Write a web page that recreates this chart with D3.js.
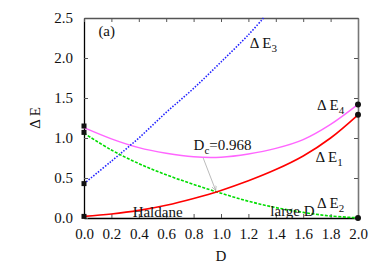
<!DOCTYPE html>
<html>
<head>
<meta charset="utf-8">
<script src="https://cdnjs.cloudflare.com/ajax/libs/d3/7.8.5/d3.min.js"></script>
<style>
  body { margin: 0; background: #fff; }
  svg text { font-family: "Liberation Serif", "DejaVu Serif", "Times New Roman", serif !important; }
</style>
</head>
<body>
<div id="chart"></div>
<script>
// gaps vs D
const dVals = [0, 0.2, 0.4, 0.6, 0.8, 1.0, 1.2, 1.4, 1.6, 1.8, 2.0];
const e1 = [0.02, 0.05, 0.095, 0.16, 0.245, 0.345, 0.465, 0.605, 0.775, 1.00, 1.29];
const e2 = [1.06, 0.85, 0.68, 0.54, 0.42, 0.31, 0.21, 0.13, 0.07, 0.025, 0.003];
const e4 = [1.13, 0.99, 0.88, 0.81, 0.765, 0.76, 0.80, 0.87, 0.98, 1.17, 1.42];
const d3Vals = [0, 0.2, 0.4, 0.6, 0.8, 1.0, 1.2, 1.31];
const e3 = [0.43, 0.71, 1.00, 1.32, 1.62, 1.95, 2.29, 2.5];

const xTicks = [0, 0.2, 0.4, 0.6, 0.8, 1.0, 1.2, 1.4, 1.6, 1.8, 2.0];
const yTicks = [0, 0.5, 1.0, 1.5, 2.0, 2.5];

const dc = 0.968;
// end markers
const leftPts = [1.15, 1.07, 0.43, 0.02];
const rightPts = [1.42, 1.29, 0.0];

const W = 382, H = 267;
const m = {left: 84, right: 24, top: 18, bottom: 49};
const iw = W - m.left - m.right, ih = H - m.top - m.bottom;
const serif = "'Liberation Serif', 'DejaVu Serif', serif";

const svg = d3.select("#chart").append("svg")
    .attr("width", W).attr("height", H)
    .attr("font-family", serif);

svg.append("rect").attr("width", W).attr("height", H).attr("fill", "#fff");

const g = svg.append("g").attr("transform", `translate(${m.left},${m.top})`);

const x = d3.scaleLinear().domain([0, 2]).range([0, iw]);
const y = d3.scaleLinear().domain([0, 2.5]).range([ih, 0]);

// axes, ticks pointing inward
const fmt = d3.format(".1f");
g.append("g")
    .attr("transform", `translate(0,${ih})`)
    .call(d3.axisBottom(x).tickValues(xTicks).tickFormat(fmt).tickSizeInner(-4).tickSizeOuter(0).tickPadding(10))
    .call(a => a.select(".domain").attr("stroke", "#000").attr("stroke-width", 1.3));
g.append("g")
    .call(d3.axisLeft(y).tickValues(yTicks).tickFormat(fmt).tickSizeInner(-4).tickSizeOuter(0).tickPadding(11))
    .call(a => a.select(".domain").attr("stroke", "#000").attr("stroke-width", 1.3));
g.append("g")
    .call(d3.axisTop(x).tickValues(xTicks).tickFormat("").tickSizeInner(-4).tickSizeOuter(0))
    .call(a => a.select(".domain").attr("stroke", "#555").attr("stroke-width", 1.3));
g.append("g")
    .attr("transform", `translate(${iw},0)`)
    .call(d3.axisRight(y).tickValues(yTicks).tickFormat("").tickSizeInner(-4).tickSizeOuter(0))
    .call(a => a.select(".domain").attr("stroke", "#777").attr("stroke-width", 1.6));

g.selectAll("g").attr("font-family", serif);
g.selectAll(".tick line").attr("stroke", "#555");
g.selectAll(".tick text").attr("font-size", 15).attr("fill", "#111");

const line = (xs, ys) => d3.line()
    .x((d, i) => x(xs[i]))
    .y(d => y(d))
    .curve(d3.curveCatmullRom)(ys);

g.append("path").attr("d", line(dVals, e4))
    .attr("fill", "none").attr("stroke", "#ff66ff").attr("stroke-width", 1.4);
g.append("path").attr("d", line(d3Vals, e3))
    .attr("fill", "none").attr("stroke", "#2222ff").attr("stroke-width", 1.6)
    .attr("stroke-dasharray", "1.5,1.5");
g.append("path").attr("d", line(dVals, e2))
    .attr("fill", "none").attr("stroke", "#00dd00").attr("stroke-width", 1.6)
    .attr("stroke-dasharray", "3,1.5");
g.append("path").attr("d", line(dVals, e1))
    .attr("fill", "none").attr("stroke", "#ff0000").attr("stroke-width", 1.6);

// markers at the ends
g.selectAll(".lp").data(leftPts).enter().append("rect")
    .attr("x", -2.5).attr("y", d => y(d) - 2.5)
    .attr("width", 5).attr("height", 5).attr("fill", "#111");
g.selectAll(".rp").data(rightPts).enter().append("circle")
    .attr("cx", x(2)).attr("cy", d => y(d)).attr("r", 3).attr("fill", "#111");

// labels
function gapLabel(px, py, sub) {
    const t = g.append("text").attr("x", px).attr("y", py)
        .attr("font-size", 15).attr("fill", "#111");
    t.append("tspan").text("\u0394 E");
    t.append("tspan").attr("font-size", 11).attr("dy", 4).text(sub);
}
gapLabel(x(1.21), y(2.13), "3");
gapLabel(x(1.7), y(1.35), "4");
gapLabel(x(1.69), y(0.7), "1");
gapLabel(x(1.7), y(0.13), "2");

g.append("text").attr("x", x(0.105)).attr("y", y(2.28))
    .attr("font-size", 15).attr("fill", "#111").text("(a)");
g.append("text").attr("x", x(0.355)).attr("y", y(0.01))
    .attr("font-size", 15).attr("fill", "#111").text("Haldane");
g.append("text").attr("x", x(1.36)).attr("y", y(0.03))
    .attr("font-size", 15).attr("fill", "#111").text("large D");

const dcT = g.append("text").attr("x", x(0.8)).attr("y", y(0.85))
    .attr("font-size", 15).attr("fill", "#111");
dcT.append("tspan").text("D");
dcT.append("tspan").attr("font-size", 11).attr("dy", 4).text("c");
dcT.append("tspan").attr("dy", -4).text("=" + dc);

// arrow to the crossing
svg.append("defs").append("marker")
    .attr("id", "ah").attr("viewBox", "0 0 10 10").attr("refX", 9).attr("refY", 5)
    .attr("markerWidth", 6).attr("markerHeight", 6).attr("orient", "auto")
    .append("path").attr("d", "M0,0L10,5L0,10").attr("fill", "none").attr("stroke", "#999").attr("stroke-width", 1.2);
g.append("line")
    .attr("x1", x(0.87)).attr("y1", y(0.75))
    .attr("x2", x(0.96)).attr("y2", y(0.35))
    .attr("stroke", "#aaa").attr("stroke-width", 0.8)
    .attr("marker-end", "url(#ah)");

// axis titles
svg.append("text").attr("transform", `translate(40,${m.top + y(1.25)}) rotate(-90)`)
    .attr("text-anchor", "middle").attr("font-size", 15).attr("fill", "#111").text("\u0394 E");
svg.append("text").attr("x", m.left + x(1.0)).attr("y", 261)
    .attr("text-anchor", "middle").attr("font-size", 15).attr("fill", "#111").text("D");
</script>
</body>
</html>
